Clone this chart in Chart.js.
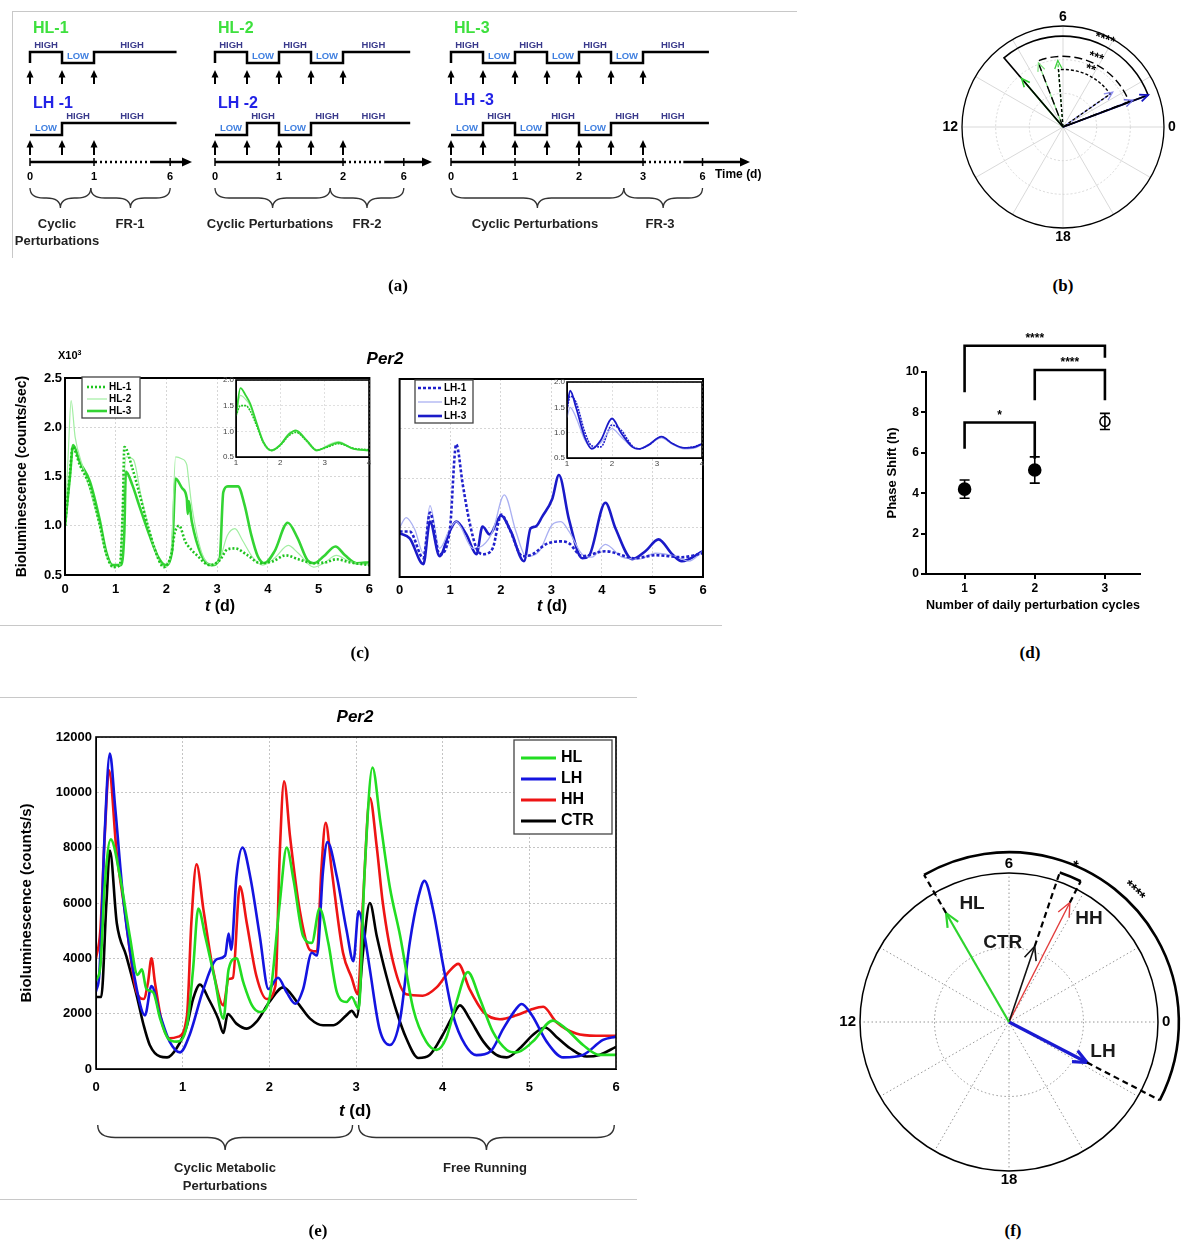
<!DOCTYPE html>
<html>
<head>
<meta charset="utf-8">
<title>Per2 bioluminescence under cyclic metabolic perturbations</title>
<script src="https://cdn.jsdelivr.net/npm/chart.js@4.4.1/dist/chart.umd.min.js"></script>
<style>
  html, body { margin: 0; padding: 0; background: #fff; }
  #page { position: relative; width: 1184px; height: 1241px; overflow: hidden;
          font-family: "Liberation Sans", Arial, sans-serif; }
  #page canvas { position: absolute; }
  .t { position: absolute; white-space: nowrap; font-weight: bold; line-height: 1; }
  .cap { font-family: "Liberation Serif", "Times New Roman", serif; }
  .rule { position: absolute; background: #c8c8c8; }
</style>
</head>
<body>
<div id="page"></div>
<script>
// ---------------- data ----------------

// (a) perturbation protocols: switch times (d) and level after switch (1 = HIGH, 0 = LOW)
const A_CYC_END = [1, 2, 3];
const A_FR_POS = [2.19, 2.95, 3.93];        // where "6" sits on the broken time axis
const A_BRACE_SPLIT = [0.95, 1.8, 2.7];
const A_HL_SWITCH = [[0, 0.5, 1], [0, 0.5, 1, 1.5, 2], [0, 0.5, 1, 1.5, 2, 2.5, 3]];
const A_HL_LEVEL = [[1, 0, 1], [1, 0, 1, 0, 1], [1, 0, 1, 0, 1, 0, 1]];
const A_LH_SWITCH = [[0, 0.5], [0, 0.5, 1, 1.5], [0, 0.5, 1, 1.5, 2, 2.5]];
const A_LH_LEVEL = [[0, 1], [0, 1, 0, 1], [0, 1, 0, 1, 0, 1]];

// (b) phase (h) and amplitude of the HL / LH vectors
const B_NAMES = ['HL-3', 'HL-2', 'HL-1', 'LH-3', 'LH-2', 'LH-1'];
const B_HOURS = [8.7, 7.4, 6.3, 1.37, 1.4, 2.33];
const B_AMPS = [0.63, 0.68, 0.66, 0.9, 0.74, 0.6];
const B_PAIR_A = [0, 1, 2];
const B_PAIR_B = [3, 4, 5];
const B_PAIR_R = [0.9, 0.7, 0.57];
const B_PAIR_STARS = ['****', '***', '**'];

// (c) Per2 bioluminescence (x10^3 counts/sec)
const C_HL1_T = [0, 0.1, 0.15, 0.29, 0.49, 0.68, 0.81, 0.95, 1.08, 1.14, 1.17, 1.33, 1.46, 1.66, 1.85, 1.95, 2.1, 2.16, 2.25, 2.37, 2.42, 2.6, 2.85, 3.05, 3.2, 3.35, 3.6, 3.85, 4.1, 4.35, 4.6, 4.9, 5.15, 5.35, 5.6, 6.0];
const C_HL1_V = [1.0, 1.55, 1.8, 1.62, 1.4, 1.02, 0.72, 0.58, 0.6, 1.2, 1.8, 1.58, 1.34, 0.95, 0.65, 0.58, 0.72, 0.92, 1.0, 0.84, 0.8, 0.7, 0.6, 0.65, 0.76, 0.77, 0.7, 0.62, 0.64, 0.7, 0.66, 0.62, 0.63, 0.66, 0.63, 0.6];
const C_HL2_T = [0, 0.07, 0.12, 0.2, 0.35, 0.5, 0.68, 0.81, 0.95, 1.08, 1.15, 1.2, 1.35, 1.5, 1.66, 1.85, 1.98, 2.1, 2.18, 2.3, 2.4, 2.43, 2.5, 2.7, 2.9, 3.05, 3.2, 3.35, 3.5, 3.7, 3.9, 4.15, 4.4, 4.6, 4.9, 5.1, 5.35, 5.6, 6.0];
const C_HL2_V = [1.0, 1.8, 2.27, 1.9, 1.6, 1.35, 1.0, 0.72, 0.58, 0.6, 1.3, 1.7, 1.67, 1.3, 0.95, 0.65, 0.58, 0.8, 1.7, 1.68, 1.62, 1.5, 1.2, 0.72, 0.6, 0.66, 0.9, 0.97, 0.85, 0.68, 0.6, 0.68, 0.8, 0.72, 0.58, 0.62, 0.7, 0.64, 0.6];
const C_HL3_T = [0, 0.1, 0.16, 0.29, 0.49, 0.68, 0.81, 0.94, 1.1, 1.17, 1.2, 1.33, 1.46, 1.66, 1.85, 1.98, 2.11, 2.18, 2.31, 2.4, 2.42, 2.44, 2.5, 2.69, 2.89, 3.05, 3.12, 3.21, 3.41, 3.54, 3.67, 3.8, 3.93, 4.13, 4.39, 4.58, 4.78, 4.91, 5.1, 5.33, 5.52, 5.75, 6.0];
const C_HL3_V = [1.0, 1.51, 1.82, 1.65, 1.45, 1.07, 0.74, 0.6, 0.6, 0.94, 1.55, 1.41, 1.21, 0.91, 0.67, 0.6, 0.74, 1.48, 1.38, 1.28, 1.12, 1.25, 1.04, 0.7, 0.6, 0.67, 1.34, 1.4, 1.4, 1.21, 0.91, 0.69, 0.62, 0.74, 1.03, 0.88, 0.65, 0.62, 0.69, 0.79, 0.7, 0.62, 0.63];
const C_LH1_T = [0, 0.2, 0.47, 0.6, 0.79, 0.99, 1.12, 1.25, 1.38, 1.52, 1.65, 1.84, 2.01, 2.17, 2.43, 2.63, 2.89, 3.19, 3.35, 3.61, 4.07, 4.66, 5.06, 5.58, 6.0];
const C_LH1_V = [0.96, 0.96, 0.69, 1.15, 0.73, 0.96, 1.84, 1.43, 1.06, 0.79, 0.73, 0.79, 1.13, 0.99, 0.71, 0.73, 0.83, 0.86, 0.84, 0.71, 0.76, 0.69, 0.72, 0.7, 0.74];
const C_LH2_T = [0, 0.13, 0.3, 0.47, 0.6, 0.79, 0.99, 1.12, 1.45, 1.65, 1.84, 2.07, 2.3, 2.5, 2.76, 3.02, 3.19, 3.35, 3.61, 3.8, 4.07, 4.4, 4.73, 5.06, 5.45, 5.72, 6.0];
const C_LH2_V = [1.0, 1.1, 0.98, 0.74, 1.22, 0.79, 0.98, 1.06, 0.79, 0.82, 0.96, 1.33, 0.96, 0.71, 0.76, 1.03, 1.06, 0.96, 0.73, 0.7, 0.83, 0.7, 0.68, 0.74, 0.71, 0.66, 0.76];
const C_LH3_T = [0, 0.2, 0.47, 0.6, 0.79, 0.99, 1.12, 1.32, 1.52, 1.64, 1.78, 2.01, 2.2, 2.46, 2.59, 2.69, 2.82, 3.02, 3.15, 3.35, 3.61, 3.74, 4.07, 4.27, 4.6, 4.86, 5.12, 5.39, 5.58, 6.0];
const C_LH3_V = [0.94, 0.89, 0.63, 1.06, 0.71, 0.96, 1.06, 0.93, 0.73, 1.01, 0.93, 1.12, 0.96, 0.66, 0.99, 1.01, 1.11, 1.29, 1.53, 1.08, 0.69, 0.71, 1.25, 0.99, 0.68, 0.76, 0.88, 0.73, 0.66, 0.76];
// (c) insets, days 1-4
const C_INL_T = [1, 1.1, 1.22, 1.32, 1.47, 1.62, 1.8, 1.99, 2.2, 2.35, 2.59, 2.82, 3.05, 3.31, 3.65, 4];
const C_INL_A = [1.3, 1.84, 1.7, 1.54, 1.15, 0.79, 0.63, 0.73, 0.95, 1.02, 0.83, 0.63, 0.7, 0.78, 0.66, 0.63];
const C_INL_B = [1.3, 1.5, 1.5, 1.4, 1.1, 0.78, 0.63, 0.72, 0.92, 0.98, 0.82, 0.64, 0.69, 0.76, 0.67, 0.64];
const C_INL_C = [1.32, 1.7, 1.62, 1.5, 1.12, 0.76, 0.62, 0.72, 0.97, 1.0, 0.8, 0.62, 0.72, 0.8, 0.66, 0.62];
const C_INR_T = [1, 1.07, 1.2, 1.4, 1.55, 1.75, 2.0, 2.2, 2.45, 2.6, 2.8, 3.1, 3.35, 3.6, 3.85, 4];
const C_INR_A = [1.5, 1.83, 1.5, 0.9, 0.68, 0.85, 1.28, 1.0, 0.72, 0.68, 0.75, 0.92, 0.78, 0.7, 0.72, 0.78];
const C_INR_B = [1.3, 1.5, 1.3, 0.85, 0.7, 0.8, 1.08, 0.92, 0.72, 0.68, 0.76, 0.9, 0.77, 0.68, 0.7, 0.77];
const C_INR_C = [1.45, 1.72, 1.6, 1.0, 0.74, 0.72, 1.15, 1.05, 0.74, 0.68, 0.75, 0.91, 0.78, 0.7, 0.73, 0.78];

// (d) phase shift vs number of daily perturbation cycles
const D_CYCLES = [1, 2, 3];
const D_SHIFT = [4.2, 5.15, 7.55];
const D_ERR = [0.45, 0.65, 0.4];
const D_FILLED = [true, true, false];
const D_BR_FROM = [1, 2, 1];
const D_BR_TO = [2, 3, 3];
const D_BR_Y = [7.5, 10.1, 11.3];
const D_BR_LEFT = [6.2, 8.6, 9.0];
const D_BR_RIGHT = [5.7, 8.6, 10.7];
const D_BR_STARS = ['*', '****', '****'];

// (e) Per2 bioluminescence (counts/s)
const E_HL_T = [0, 0.05, 0.1, 0.17, 0.28, 0.39, 0.48, 0.53, 0.58, 0.66, 0.74, 0.83, 0.93, 1.05, 1.12, 1.18, 1.26, 1.37, 1.47, 1.53, 1.62, 1.7, 1.8, 1.89, 2.0, 2.12, 2.2, 2.28, 2.39, 2.49, 2.58, 2.68, 2.78, 2.89, 2.95, 3.03, 3.1, 3.19, 3.28, 3.39, 3.51, 3.66, 3.81, 3.93, 4.04, 4.16, 4.29, 4.43, 4.58, 4.74, 4.85, 5.04, 5.27, 5.42, 5.62, 5.81, 6.0];
const E_HL_V = [3200, 3700, 6600, 8300, 6900, 4800, 3400, 3600, 2900, 2770, 1820, 1110, 990, 1580, 3600, 5800, 4800, 3250, 1820, 3600, 4000, 3130, 2300, 2060, 2530, 5990, 8000, 6820, 4800, 4560, 5800, 4560, 2770, 2420, 2600, 2180, 7180, 10900, 8960, 6580, 4800, 2180, 990, 690, 1110, 2420, 3500, 2530, 1340, 690, 600, 990, 1750, 1460, 870, 510, 510];
const E_LH_T = [0, 0.04, 0.1, 0.16, 0.22, 0.32, 0.47, 0.565, 0.64, 0.74, 0.85, 0.97, 1.08, 1.24, 1.39, 1.49, 1.53, 1.56, 1.62, 1.69, 1.78, 1.89, 1.99, 2.1, 2.2, 2.3, 2.39, 2.49, 2.55, 2.62, 2.67, 2.78, 2.89, 2.97, 3.03, 3.1, 3.16, 3.27, 3.39, 3.51, 3.62, 3.72, 3.79, 3.89, 4.0, 4.12, 4.26, 4.39, 4.55, 4.7, 4.85, 4.91, 5.03, 5.2, 5.39, 5.62, 5.85, 6.0];
const E_LH_V = [2800, 3500, 8500, 11400, 9500, 6000, 2890, 1940, 3000, 1940, 990, 600, 1230, 2890, 3960, 4100, 4900, 4300, 6940, 8000, 6940, 4800, 2890, 3300, 2770, 2360, 2890, 4200, 4100, 7180, 8200, 6940, 5030, 3900, 5700, 4800, 3600, 1460, 870, 1820, 4560, 6220, 6800, 5750, 3840, 1940, 870, 500, 630, 1460, 2180, 2350, 1940, 990, 420, 510, 1050, 1170];
const E_HH_T = [0, 0.05, 0.1, 0.15, 0.24, 0.32, 0.47, 0.55, 0.6, 0.64, 0.68, 0.76, 0.85, 0.95, 1.05, 1.1, 1.16, 1.24, 1.35, 1.47, 1.53, 1.58, 1.66, 1.74, 1.85, 1.97, 2.07, 2.12, 2.17, 2.24, 2.35, 2.47, 2.55, 2.6, 2.65, 2.72, 2.85, 2.95, 3.02, 3.08, 3.16, 3.24, 3.31, 3.43, 3.58, 3.77, 3.93, 4.08, 4.18, 4.31, 4.47, 4.66, 4.85, 5.02, 5.16, 5.31, 5.54, 5.77, 6.0];
const E_HH_V = [4000, 5000, 8370, 10800, 7770, 5990, 2770, 2530, 3130, 4000, 3130, 1700, 1110, 1170, 1940, 5270, 7400, 5750, 3600, 2300, 3250, 3300, 6600, 5270, 3370, 2530, 3010, 7770, 10400, 8370, 5750, 4300, 4250, 7180, 8900, 7180, 4200, 3300, 2700, 5990, 9800, 8010, 5990, 3840, 2700, 2650, 2950, 3550, 3800, 2890, 2060, 1800, 1940, 2150, 2250, 1700, 1280, 1200, 1200];
const E_CTR_T = [0, 0.06, 0.12, 0.16, 0.24, 0.35, 0.47, 0.55, 0.62, 0.74, 0.82, 0.93, 1.05, 1.12, 1.2, 1.3, 1.41, 1.47, 1.52, 1.62, 1.74, 1.85, 2.0, 2.16, 2.32, 2.47, 2.62, 2.74, 2.89, 2.95, 3.01, 3.08, 3.16, 3.24, 3.35, 3.47, 3.58, 3.72, 3.85, 4.0, 4.12, 4.2, 4.31, 4.47, 4.62, 4.74, 4.89, 5.04, 5.18, 5.31, 5.47, 5.66, 5.81, 6.0];
const E_CTR_V = [2600, 2600, 5990, 7900, 5270, 4080, 2650, 1580, 870, 450, 420, 750, 1580, 2530, 3050, 2530, 1820, 1300, 1990, 1640, 1460, 1700, 2420, 2950, 2420, 1820, 1580, 1580, 1940, 2100, 1880, 4200, 6000, 4800, 3370, 2060, 1110, 400, 510, 1230, 1940, 2300, 1820, 990, 510, 420, 750, 1230, 1500, 1170, 750, 450, 510, 800];
const E_PHASE_START = [0.02, 3.03];
const E_PHASE_END = [2.96, 5.98];

// (f) phase (h) and amplitude of the group vectors
const F_NAMES = ['HL', 'CTR', 'HH', 'LH'];
const F_HOURS = [8.0, 4.75, 4.2, 22.17];
const F_AMPS = [0.845, 0.537, 0.9, 0.59];
const F_PAIR_A = [0, 1];
const F_PAIR_B = [3, 2];
const F_PAIR_R = [1.14, 1.06];
const F_PAIR_STARS = ['****', '*'];

const POLAR_LABEL_HOURS = [0, 6, 12, 18];

// ---------------- helpers ----------------
const FONT = '"Liberation Sans", Arial, sans-serif';
Chart.defaults.font.family = FONT;
Chart.defaults.color = '#000';
Chart.defaults.animation = false;
Chart.defaults.responsive = false;
Chart.defaults.events = [];
Chart.defaults.plugins.legend.display = false;
Chart.defaults.plugins.tooltip.enabled = false;

const page = document.getElementById('page');

function mk(left, top, w, h) {
  const c = document.createElement('canvas');
  c.width = w; c.height = h;
  c.style.left = left + 'px'; c.style.top = top + 'px';
  c.style.width = w + 'px'; c.style.height = h + 'px';
  page.appendChild(c);
  return c;
}

function text(html, x, y, size, o) {
  o = o || {};
  const d = document.createElement('div');
  d.className = 't' + (o.cls ? ' ' + o.cls : '');
  d.innerHTML = html;
  d.style.left = x + 'px'; d.style.top = y + 'px';
  d.style.fontSize = size + 'px';
  if (o.color) d.style.color = o.color;
  if (o.italic) d.style.fontStyle = 'italic';
  d.style.transform = 'translate(' + (o.left ? '0' : '-50%') + ', -50%)';
  page.appendChild(d);
}

function rule(x, y, w, h) {
  const d = document.createElement('div');
  d.className = 'rule';
  d.style.cssText = `left:${x}px;top:${y}px;width:${w}px;height:${h}px`;
  page.appendChild(d);
}

const pts = (ts, vs) => ts.map((t, i) => ({ x: t, y: vs[i] }));
const series = (label, ts, vs, color, width, dash) =>
  ({ label, data: pts(ts, vs), borderColor: color, borderWidth: width, borderDash: dash || [], fill: false });

function brace(ctx, x1, x2, y, h) {
  const m = (x1 + x2) / 2, q = h / 2, r = Math.min(q * 1.4, (x2 - x1) / 4);
  ctx.beginPath();
  ctx.moveTo(x1, y);
  ctx.quadraticCurveTo(x1, y + q, x1 + r, y + q);
  ctx.lineTo(m - r, y + q);
  ctx.quadraticCurveTo(m, y + q, m, y + h);
  ctx.quadraticCurveTo(m, y + q, m + r, y + q);
  ctx.lineTo(x2 - r, y + q);
  ctx.quadraticCurveTo(x2, y + q, x2, y);
  ctx.stroke();
}

const framePlugin = (w) => ({
  id: 'frame',
  afterDraw(c) {
    const a = c.chartArea, ctx = c.ctx;
    ctx.save(); ctx.strokeStyle = '#000'; ctx.lineWidth = w; ctx.setLineDash([]);
    ctx.strokeRect(a.left, a.top, a.right - a.left, a.bottom - a.top);
    ctx.restore();
  }
});

const whitePlugin = {
  id: 'white',
  beforeDraw(c) {
    const a = c.chartArea;
    c.ctx.save(); c.ctx.fillStyle = '#fff';
    c.ctx.fillRect(a.left, a.top, a.right - a.left, a.bottom - a.top);
    c.ctx.restore();
  }
};

function legendPlugin(box, rows, lineX, textX, fs, lw) {
  return {
    id: 'legendBox',
    afterDraw(c) {
      const ctx = c.ctx;
      ctx.save();
      ctx.fillStyle = '#fff'; ctx.fillRect(box[0], box[1], box[2], box[3]);
      ctx.strokeStyle = '#444'; ctx.lineWidth = 1.3; ctx.strokeRect(box[0], box[1], box[2], box[3]);
      ctx.font = 'bold ' + fs + 'px ' + FONT; ctx.textBaseline = 'middle'; ctx.textAlign = 'left';
      c.data.datasets.forEach((d, i) => {
        ctx.strokeStyle = d.borderColor; ctx.lineWidth = lw || d.borderWidth;
        ctx.setLineDash(d.borderDash || []);
        ctx.beginPath(); ctx.moveTo(lineX[0], rows[i]); ctx.lineTo(lineX[1], rows[i]); ctx.stroke();
        ctx.setLineDash([]); ctx.fillStyle = '#000';
        ctx.fillText(d.label, textX, rows[i]);
      });
      ctx.restore();
    }
  };
}

function lineChart(box, cfg) {
  const cv = mk(box[0], box[1], box[2], box[3]);
  return new Chart(cv, {
    type: 'line',
    data: { datasets: cfg.datasets },
    options: {
      layout: { padding: cfg.pad },
      elements: { point: { radius: 0 }, line: { cubicInterpolationMode: 'monotone' } },
      scales: {
        x: {
          type: 'linear', min: cfg.x[0], max: cfg.x[1],
          afterFit: s => { s.height = cfg.xH; },
          ticks: { stepSize: 1, maxRotation: 0, padding: cfg.xPad, color: cfg.tickColor || '#000',
                   font: { size: cfg.fs, weight: cfg.fw || 'bold' } },
          grid: { color: cfg.grid, drawTicks: false },
          border: { dash: [2, 2], color: '#000' }
        },
        y: {
          type: 'linear', min: cfg.y[0], max: cfg.y[1],
          afterFit: s => { s.width = cfg.yW; },
          ticks: { display: cfg.yTicks !== false, stepSize: cfg.y[2], padding: cfg.yPad || 3,
                   color: cfg.tickColor || '#000', font: { size: cfg.fs, weight: cfg.fw || 'bold' },
                   callback: cfg.yFmt },
          grid: { color: cfg.grid, drawTicks: false },
          border: { dash: [2, 2], color: '#000' },
          title: cfg.yTitle || { display: false }
        }
      }
    },
    plugins: cfg.plugins || []
  });
}

// ---------------- (a) protocol sketches ----------------
const A_X0 = [30, 215, 451];          // pixel of day 0 in each sketch
const A_END = [192, 432, 750];        // pixel of the time-axis arrow tip
const A_DAY = 64;                     // pixels per day
const ROW_HL = { hi: 40, lo: 51, tip: 58, base: 72 };
const ROW_LH = { hi: 111, lo: 123, tip: 128, base: 143 };
const AXIS_Y = 150, TICK_Y = 165, BRACE_Y = 176;

function levelAt(sw, lv, t) {
  let l = lv[0];
  sw.forEach((s, i) => { if (s <= t + 1e-9) l = lv[i]; });
  return l;
}

function upArrow(ctx, x, yBase, yTip) {
  ctx.lineWidth = 2;
  ctx.beginPath(); ctx.moveTo(x, yBase); ctx.lineTo(x, yTip + 5); ctx.stroke();
  ctx.beginPath(); ctx.moveTo(x, yTip); ctx.lineTo(x - 3.5, yTip + 7.5); ctx.lineTo(x + 3.5, yTip + 7.5);
  ctx.closePath(); ctx.fill();
}

function schemePlugin(k) {
  return {
    id: 'scheme' + k,
    afterDatasetsDraw(c) {
      const ctx = c.ctx, sx = c.scales.x, sy = c.scales.y;
      const X = t => sx.getPixelForValue(t), Y = v => sy.getPixelForValue(v);
      const cyc = A_CYC_END[k], fr = A_FR_POS[k];
      ctx.save();
      ctx.textAlign = 'center'; ctx.textBaseline = 'middle';
      [[A_HL_SWITCH[k], A_HL_LEVEL[k], ROW_HL], [A_LH_SWITCH[k], A_LH_LEVEL[k], ROW_LH]].forEach(([sw, lv, row]) => {
        ctx.font = 'bold 9.5px ' + FONT;
        const put = (lvl, t) => {
          ctx.fillStyle = lvl ? '#3a3a8c' : '#3f7fe0';
          ctx.fillText(lvl ? 'HIGH' : 'LOW', X(t), Y(lvl ? row.hi : row.lo) - 6.5);
        };
        for (let t = 0; t < cyc; t += 0.5) put(levelAt(sw, lv, t), t + 0.25);
        put(levelAt(sw, lv, cyc), (cyc + fr) / 2);
        ctx.fillStyle = '#000'; ctx.strokeStyle = '#000';
        for (let t = 0; t <= cyc + 1e-9; t += 0.5) upArrow(ctx, X(t), Y(row.base), Y(row.tip));
      });
      // broken time axis
      const ya = Y(AXIS_Y), xEnd = X((A_END[k] - A_X0[k]) / A_DAY);
      const seg = (x1, x2, dash) => {
        ctx.setLineDash(dash); ctx.beginPath(); ctx.moveTo(x1, ya); ctx.lineTo(x2, ya); ctx.stroke();
      };
      ctx.lineWidth = 2.5;
      seg(X(0), X(cyc) + 3, []);
      seg(X(cyc) + 6, X(fr - 0.3), [2, 3]);
      seg(X(fr - 0.3), xEnd - 6, []);
      ctx.setLineDash([]);
      ctx.beginPath(); ctx.moveTo(xEnd, ya); ctx.lineTo(xEnd - 10, ya - 4.5); ctx.lineTo(xEnd - 10, ya + 4.5);
      ctx.closePath(); ctx.fill();
      ctx.lineWidth = 1.5;
      ctx.font = 'bold 11px ' + FONT;
      const tick = (x, s) => {
        ctx.beginPath(); ctx.moveTo(x, ya - 4); ctx.lineTo(x, ya + 4); ctx.stroke();
        ctx.fillText(s, x, Y(TICK_Y));
      };
      for (let d = 0; d <= cyc; d++) tick(X(d), String(d));
      tick(X(fr), '6');
      ctx.lineWidth = 1.3; ctx.strokeStyle = '#333';
      brace(ctx, X(0), X(A_BRACE_SPLIT[k]), Y(BRACE_Y), 20);
      brace(ctx, X(A_BRACE_SPLIT[k]), X(fr), Y(BRACE_Y), 20);
      ctx.restore();
    }
  };
}

A_CYC_END.forEach((cyc, k) => {
  const left = A_X0[k] - 22, w = A_END[k] + 10 - left;
  const cv = mk(left, 12, w, 246);
  const steps = (sw, lv, row, lead) => {
    const p = [];
    if (lead) p.push({ x: 0, y: row.lo });
    sw.forEach((t, i) => p.push({ x: t, y: lv[i] ? row.hi : row.lo }));
    p.push({ x: A_FR_POS[k] + 0.1, y: lv[lv.length - 1] ? row.hi : row.lo });
    return p;
  };
  new Chart(cv, {
    type: 'line',
    data: {
      datasets: [
        { label: 'HL-' + (k + 1), data: steps(A_HL_SWITCH[k], A_HL_LEVEL[k], ROW_HL, true), stepped: true,
          borderColor: '#000', borderWidth: 2.5, pointRadius: 0 },
        { label: 'LH-' + (k + 1), data: steps(A_LH_SWITCH[k], A_LH_LEVEL[k], ROW_LH, false), stepped: true,
          borderColor: '#000', borderWidth: 2.5, pointRadius: 0 }
      ]
    },
    options: {
      layout: { padding: 0 },
      scales: {
        x: { type: 'linear', display: false, min: -22 / A_DAY, max: (w - 22) / A_DAY },
        y: { type: 'linear', display: false, min: 0, max: 246, reverse: true }
      }
    },
    plugins: [schemePlugin(k)]
  });
});

['HL-1', 'HL-2', 'HL-3'].forEach((s, k) => text(s, A_X0[k] + 3, 28, 16, { left: true, color: '#3ee03e' }));
['LH -1', 'LH -2', 'LH -3'].forEach((s, k) => text(s, A_X0[k] + 3, k === 2 ? 100 : 103, 16, { left: true, color: '#2222e6' }));
text('Time (d)', 715, 174, 12, { left: true });
text('Cyclic', 57, 223, 13, { color: '#222' });
text('Perturbations', 57, 240, 13, { color: '#222' });
text('FR-1', 130, 223, 13, { color: '#222' });
text('Cyclic Perturbations', 270, 223, 13, { color: '#222' });
text('FR-2', 367, 223, 13, { color: '#222' });
text('Cyclic Perturbations', 535, 223, 13, { color: '#222' });
text('FR-3', 660, 223, 13, { color: '#222' });
rule(12, 11, 785, 1);
rule(12, 11, 1, 247);

// ---------------- polar helpers (b), (f) ----------------
const ang = h => h * Math.PI / 12;
const vec = (h, a) => [{ x: 0, y: 0 }, { x: a * Math.cos(ang(h)), y: a * Math.sin(ang(h)) }];

function polarGrid(o) {
  return {
    id: 'pgrid',
    beforeDatasetsDraw(c) {
      const ctx = c.ctx, sx = c.scales.x, sy = c.scales.y;
      const cx = sx.getPixelForValue(0), cy = sy.getPixelForValue(0), R = sx.getPixelForValue(1) - cx;
      ctx.save();
      ctx.strokeStyle = o.gridColor; ctx.lineWidth = o.gridWidth; ctx.setLineDash(o.spokeDash);
      for (let h = 0; h < 24; h += 2) {
        ctx.beginPath(); ctx.moveTo(cx, cy);
        ctx.lineTo(cx + R * Math.cos(ang(h)), cy - R * Math.sin(ang(h))); ctx.stroke();
      }
      ctx.setLineDash(o.ringDash);
      o.rings.forEach(r => { ctx.beginPath(); ctx.arc(cx, cy, r * R, 0, 2 * Math.PI); ctx.stroke(); });
      ctx.setLineDash([]); ctx.strokeStyle = '#000'; ctx.lineWidth = o.outerWidth;
      ctx.beginPath(); ctx.arc(cx, cy, R, 0, 2 * Math.PI); ctx.stroke();
      ctx.fillStyle = '#000'; ctx.font = 'bold ' + o.fs + 'px ' + FONT;
      POLAR_LABEL_HOURS.forEach(h => {
        const a = ang(h), dx = Math.cos(a), dy = Math.sin(a);
        if (Math.abs(dx) > 0.5) {
          ctx.textAlign = dx > 0 ? 'left' : 'right'; ctx.textBaseline = 'middle';
          ctx.fillText(String(h), cx + dx * (R + 4), cy);
        } else {
          ctx.textAlign = 'center'; ctx.textBaseline = 'middle';
          ctx.fillText(String(h), cx, cy - dy * (R + 4 + o.fs * 0.35));
        }
      });
      ctx.restore();
    }
  };
}

const arrowHeads = {
  id: 'heads',
  afterDatasetsDraw(c) {
    const ctx = c.ctx;
    c.data.datasets.forEach((d, i) => {
      const m = c.getDatasetMeta(i), a = m.data[0], b = m.data[1];
      const t = Math.atan2(b.y - a.y, b.x - a.x), L = d.headLen || 10;
      ctx.save(); ctx.strokeStyle = d.borderColor; ctx.lineWidth = d.borderWidth; ctx.setLineDash([]);
      ctx.beginPath();
      ctx.moveTo(b.x - L * Math.cos(t - 0.42), b.y - L * Math.sin(t - 0.42));
      ctx.lineTo(b.x, b.y);
      ctx.lineTo(b.x - L * Math.cos(t + 0.42), b.y - L * Math.sin(t + 0.42));
      ctx.stroke(); ctx.restore();
    });
  }
};

function polarChart(box, cx, cy, R, datasets, plugins) {
  const cv = mk(box[0], box[1], box[2], box[3]);
  return new Chart(cv, {
    type: 'scatter',
    data: { datasets },
    options: {
      layout: { padding: 0 },
      scales: {
        x: { type: 'linear', display: false, min: (box[0] - cx) / R, max: (box[0] + box[2] - cx) / R },
        y: { type: 'linear', display: false, min: (cy - box[1] - box[3]) / R, max: (cy - box[1]) / R }
      }
    },
    plugins
  });
}

// ---------------- (b) ----------------
const B_COLORS = ['#2ec82e', '#7ee07e', '#3fcf3f', '#1414c0', '#6464e2', '#8c8cee'];
const B_WIDTHS = [1.6, 1.2, 1.3, 1.8, 1.3, 1.3];
const B_DASHES = [[], [], [3, 2], [], [], [3, 2]];
const B_SECT_DASH = [[], [8, 4], [3, 2]];
const B_STAR_HOUR = 4.3;

const bSectors = {
  id: 'bsect',
  afterDatasetsDraw(c) {
    const ctx = c.ctx, sx = c.scales.x, sy = c.scales.y;
    const cx = sx.getPixelForValue(0), cy = sy.getPixelForValue(0), R = sx.getPixelForValue(1) - cx;
    ctx.save(); ctx.strokeStyle = '#000'; ctx.fillStyle = '#000';
    B_PAIR_A.forEach((ia, k) => {
      const t1 = ang(B_HOURS[ia]); let t2 = ang(B_HOURS[B_PAIR_B[k]]);
      while (t2 > t1) t2 -= 2 * Math.PI;
      const r = B_PAIR_R[k] * R;
      ctx.lineWidth = k === 0 ? 1.6 : 1.4; ctx.setLineDash(B_SECT_DASH[k]);
      ctx.beginPath(); ctx.moveTo(cx, cy);
      ctx.lineTo(cx + r * Math.cos(t1), cy - r * Math.sin(t1));
      ctx.arc(cx, cy, r, -t1, -t2, false);
      ctx.lineTo(cx, cy); ctx.stroke();
      const ts = ang(B_STAR_HOUR);
      ctx.save();
      ctx.translate(cx + (r + 6) * Math.cos(ts), cy - (r + 6) * Math.sin(ts));
      ctx.rotate((Math.PI / 2 - ts) * 0.7);
      ctx.font = 'bold 13px ' + FONT; ctx.textAlign = 'center'; ctx.textBaseline = 'middle';
      ctx.fillText(B_PAIR_STARS[k], 0, 0);
      ctx.restore();
    });
    ctx.restore();
  }
};

polarChart([937, 2, 246, 250], 1063, 127, 101,
  B_NAMES.map((n, i) => ({
    label: n, data: vec(B_HOURS[i], B_AMPS[i]), showLine: true, pointRadius: 0,
    borderColor: B_COLORS[i], borderWidth: B_WIDTHS[i], borderDash: B_DASHES[i], headLen: 9
  })),
  [polarGrid({ gridColor: '#cfcfcf', gridWidth: 0.8, spokeDash: [], ringDash: [2, 2], rings: [1 / 3, 2 / 3], outerWidth: 1.3, fs: 14 }),
   bSectors, arrowHeads]);

// ---------------- (c) ----------------
const fmt1 = v => v.toFixed(1);
const HL_COLORS = ['#1fc41f', '#a2eea2', '#33d433'];
const LH_COLORS = ['#2020cc', '#aab0f2', '#1a1ac8'];

lineChart([0, 340, 380, 280], {
  datasets: [
    series('HL-1', C_HL1_T, C_HL1_V, HL_COLORS[0], 2.6, [2, 2]),
    series('HL-2', C_HL2_T, C_HL2_V, HL_COLORS[1], 1.2),
    series('HL-3', C_HL3_T, C_HL3_V, HL_COLORS[2], 2.6)
  ],
  pad: { left: 0, top: 38, right: 7, bottom: 0 },
  x: [0, 6], y: [0.5, 2.5, 0.5], yW: 65, xH: 45, xPad: 7, fs: 13, grid: '#d6d6d6', yFmt: fmt1,
  yTitle: { display: true, text: 'Bioluminescence (counts/sec)', font: { size: 14, weight: 'bold' }, padding: { top: 13.6, bottom: 0 } },
  plugins: [framePlugin(2), legendPlugin([82, 37, 58, 41], [47, 59, 71], [87, 107], 109, 10)]
});

lineChart([390, 340, 330, 280], {
  datasets: [
    series('LH-1', C_LH1_T, C_LH1_V, LH_COLORS[0], 2.6, [3, 2]),
    series('LH-2', C_LH2_T, C_LH2_V, LH_COLORS[1], 1.3),
    series('LH-3', C_LH3_T, C_LH3_V, LH_COLORS[2], 2.6)
  ],
  pad: { left: 8, top: 39, right: 17, bottom: 0 },
  x: [0, 6], y: [0.5, 2.5, 0.5], yW: 0, xH: 43, xPad: 6, fs: 13, grid: '#d6d6d6', yTicks: false,
  plugins: [framePlugin(2), legendPlugin([25, 40, 58, 43], [48, 62, 76], [28, 52], 54, 10)]
});

lineChart([215, 372, 160, 100], {
  datasets: [
    series('A', C_INL_T, C_INL_A, HL_COLORS[2], 1.8),
    series('B', C_INL_T, C_INL_B, HL_COLORS[0], 1.6, [2, 1]),
    series('C', C_INL_T, C_INL_C, HL_COLORS[1], 1.2)
  ],
  pad: { left: 0, top: 8, right: 6, bottom: 0 },
  x: [1, 4], y: [0.5, 2.0, 0.5], yW: 21, xH: 15, xPad: 1, yPad: 2, fs: 8, fw: 'normal', tickColor: '#444',
  grid: '#e0e0e0', yFmt: fmt1,
  plugins: [whitePlugin, framePlugin(1.6)]
});

lineChart([546, 374, 165, 99], {
  datasets: [
    series('A', C_INR_T, C_INR_A, LH_COLORS[2], 1.8),
    series('B', C_INR_T, C_INR_B, LH_COLORS[1], 1.3),
    series('C', C_INR_T, C_INR_C, LH_COLORS[0], 1.6, [2, 1])
  ],
  pad: { left: 0, top: 8, right: 9, bottom: 0 },
  x: [1, 4], y: [0.5, 2.0, 0.5], yW: 21, xH: 15, xPad: 1, yPad: 2, fs: 8, fw: 'normal', tickColor: '#444',
  grid: '#e0e0e0', yFmt: fmt1,
  plugins: [whitePlugin, framePlugin(1.6)]
});

text('Per2', 385, 358, 17, { italic: true });
text('X10<sup style="font-size:7px">3</sup>', 58, 355, 11, { left: true });
text('<i>t</i> (d)', 220, 606, 16);
text('<i>t</i> (d)', 552, 606, 16);
rule(0, 625, 722, 1);

// ---------------- (d) ----------------
const dAnnot = {
  id: 'dAnnot',
  afterDatasetsDraw(c) {
    const ctx = c.ctx, sx = c.scales.x, sy = c.scales.y;
    ctx.save(); ctx.strokeStyle = '#000'; ctx.fillStyle = '#000';
    ctx.lineWidth = 1.6;
    D_CYCLES.forEach((n, i) => {
      const x = sx.getPixelForValue(n);
      const y1 = sy.getPixelForValue(D_SHIFT[i] - D_ERR[i]), y2 = sy.getPixelForValue(D_SHIFT[i] + D_ERR[i]);
      ctx.beginPath();
      ctx.moveTo(x, y1); ctx.lineTo(x, y2);
      ctx.moveTo(x - 5, y1); ctx.lineTo(x + 5, y1);
      ctx.moveTo(x - 5, y2); ctx.lineTo(x + 5, y2);
      ctx.stroke();
    });
    ctx.lineWidth = 2.6;
    ctx.font = 'bold 12px ' + FONT; ctx.textAlign = 'center'; ctx.textBaseline = 'bottom';
    D_BR_FROM.forEach((a, i) => {
      const xa = sx.getPixelForValue(a), xb = sx.getPixelForValue(D_BR_TO[i]), yb = sy.getPixelForValue(D_BR_Y[i]);
      ctx.beginPath();
      ctx.moveTo(xa, sy.getPixelForValue(D_BR_LEFT[i])); ctx.lineTo(xa, yb);
      ctx.lineTo(xb, yb); ctx.lineTo(xb, sy.getPixelForValue(D_BR_RIGHT[i]));
      ctx.stroke();
      ctx.fillText(D_BR_STARS[i], (xa + xb) / 2, yb - 1);
    });
    ctx.restore();
  }
};

new Chart(mk(860, 330, 324, 290), {
  type: 'scatter',
  data: {
    datasets: [{
      label: 'Phase shift',
      data: pts(D_CYCLES, D_SHIFT),
      pointRadius: D_FILLED.map(f => f ? 6 : 5),
      pointBackgroundColor: D_FILLED.map(f => f ? '#000' : '#fff'),
      pointBorderColor: '#000', pointBorderWidth: 1.6
    }]
  },
  options: {
    layout: { padding: { left: 0, top: 42, right: 44, bottom: 6 } },
    scales: {
      x: {
        type: 'linear', min: 0.45, max: 3.5,
        afterBuildTicks: s => { s.ticks = D_CYCLES.map(v => ({ value: v })); },
        afterFit: s => { s.height = 40; },
        grid: { drawOnChartArea: false, color: '#000', lineWidth: 2, tickLength: 5 },
        border: { color: '#000', width: 2 },
        ticks: { font: { size: 12, weight: 'bold' }, padding: 2, maxRotation: 0 },
        title: { display: true, text: 'Number of daily perturbation cycles', font: { size: 13, weight: 'bold' }, padding: { top: 0, bottom: 1 } }
      },
      y: {
        type: 'linear', min: 0, max: 10,
        afterFit: s => { s.width = 66; },
        grid: { drawOnChartArea: false, color: '#000', lineWidth: 2, tickLength: 5 },
        border: { color: '#000', width: 2 },
        ticks: { stepSize: 2, font: { size: 12, weight: 'bold' }, padding: 2 },
        title: { display: true, text: 'Phase Shift (h)', font: { size: 13, weight: 'bold' }, padding: { top: 25, bottom: 0 } }
      }
    }
  },
  plugins: [dAnnot]
});

// ---------------- (e) ----------------
const eBraces = {
  id: 'eBraces',
  afterDraw(c) {
    const ctx = c.ctx, sx = c.scales.x;
    ctx.save(); ctx.strokeStyle = '#333'; ctx.lineWidth = 1.4;
    E_PHASE_START.forEach((s, i) => brace(ctx, sx.getPixelForValue(s), sx.getPixelForValue(E_PHASE_END[i]), 425, 25));
    ctx.restore();
  }
};

lineChart([0, 700, 640, 500], {
  datasets: [
    series('HL', E_HL_T, E_HL_V, '#22dd22', 2.6),
    series('LH', E_LH_T, E_LH_V, '#1414e0', 2.6),
    series('HH', E_HH_T, E_HH_V, '#ee1414', 2.6),
    series('CTR', E_CTR_T, E_CTR_V, '#000', 2.6)
  ],
  pad: { left: 0, top: 37, right: 24, bottom: 81 },
  x: [0, 6], y: [0, 12000, 2000], yW: 96, xH: 50, xPad: 11, yPad: 4, fs: 13, grid: '#c4c4c4',
  yFmt: v => String(v),
  yTitle: { display: true, text: 'Bioluminescence (counts/s)', font: { size: 15, weight: 'bold' }, padding: { top: 18, bottom: 0 } },
  plugins: [framePlugin(1.6), legendPlugin([514, 40, 98, 94], [58, 79, 100, 121], [521, 556], 561, 16, 3), eBraces]
});

text('Per2', 355, 716, 17, { italic: true });
text('<i>t</i> (d)', 355, 1110, 17);
text('Cyclic Metabolic', 225, 1167, 13, { color: '#222' });
text('Perturbations', 225, 1185, 13, { color: '#222' });
text('Free Running', 485, 1167, 13, { color: '#222' });
rule(0, 697, 637, 1);
rule(0, 1199, 637, 1);

// ---------------- (f) ----------------
const F_COLORS = ['#2ed42e', '#111111', '#e23c3c', '#1a1ad2'];
const F_WIDTHS = [2.2, 1.6, 1.4, 3.2];
const F_LABEL_OFF = [[26, -9], [-32, -3], [19, 16], [16, -11]];

const fAnnot = {
  id: 'fAnnot',
  afterDatasetsDraw(c) {
    const ctx = c.ctx, sx = c.scales.x, sy = c.scales.y;
    const cx = sx.getPixelForValue(0), cy = sy.getPixelForValue(0), R = sx.getPixelForValue(1) - cx;
    ctx.save(); ctx.strokeStyle = '#000'; ctx.fillStyle = '#000';
    F_PAIR_A.forEach((ia, k) => {
      const ib = F_PAIR_B[k], r = F_PAIR_R[k] * R;
      const t1 = ang(F_HOURS[ia]); let t2 = ang(F_HOURS[ib]);
      while (t2 > t1) t2 -= 2 * Math.PI;
      ctx.lineWidth = 2.2; ctx.setLineDash([6, 4]);
      [[t1, F_AMPS[ia]], [t2, F_AMPS[ib]]].forEach(([t, a]) => {
        ctx.beginPath();
        ctx.moveTo(cx + a * R * Math.cos(t), cy - a * R * Math.sin(t));
        ctx.lineTo(cx + r * Math.cos(t), cy - r * Math.sin(t));
        ctx.stroke();
      });
      ctx.setLineDash([]); ctx.lineWidth = 2.6;
      ctx.beginPath(); ctx.arc(cx, cy, r, -t1, -t2, false); ctx.stroke();
      const tm = (t1 + t2) / 2;
      ctx.save();
      ctx.translate(cx + (r + 11) * Math.cos(tm), cy - (r + 11) * Math.sin(tm));
      ctx.rotate(Math.PI / 2 - tm);
      ctx.font = 'bold 15px ' + FONT; ctx.textAlign = 'center'; ctx.textBaseline = 'middle';
      ctx.fillText(F_PAIR_STARS[k], 0, 0);
      ctx.restore();
    });
    ctx.font = 'bold 19px ' + FONT; ctx.textAlign = 'center'; ctx.textBaseline = 'middle'; ctx.fillStyle = '#1a1a1a';
    F_NAMES.forEach((n, i) => {
      const m = c.getDatasetMeta(i).data[1];
      ctx.fillText(n, m.x + F_LABEL_OFF[i][0], m.y + F_LABEL_OFF[i][1]);
    });
    ctx.restore();
  }
};

polarChart([820, 840, 364, 360], 1009, 1022, 149,
  F_NAMES.map((n, i) => ({
    label: n, data: vec(F_HOURS[i], F_AMPS[i]), showLine: true, pointRadius: 0,
    borderColor: F_COLORS[i], borderWidth: F_WIDTHS[i], headLen: 15
  })),
  [polarGrid({ gridColor: '#8a8a8a', gridWidth: 0.9, spokeDash: [1.5, 2.5], ringDash: [1.5, 2.5], rings: [0.5], outerWidth: 1.5, fs: 15 }),
   arrowHeads, fAnnot]);

// ---------------- captions ----------------
[['(a)', 398, 285], ['(b)', 1063, 285], ['(c)', 360, 652], ['(d)', 1030, 652], ['(e)', 318, 1230], ['(f)', 1013, 1230]]
  .forEach(([s, x, y]) => text(s, x, y, 17, { cls: 'cap' }));
</script>
</body>
</html>
